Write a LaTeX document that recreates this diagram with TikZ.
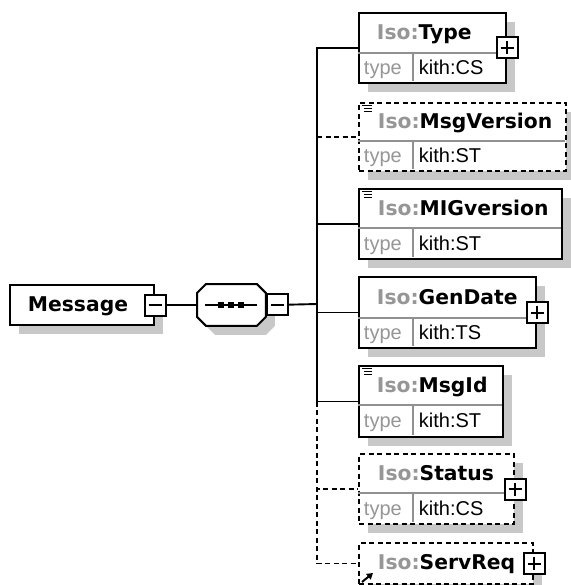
\documentclass[tikz,border=0pt]{standalone}
\usepackage{fontspec}
\setmainfont{Liberation Sans}
\newfontfamily\namefont{DejaVu Sans}
\usetikzlibrary{positioning, shadows, arrows.meta}
\definecolor{isogray}{RGB}{150,150,150}
\definecolor{shadowgray}{RGB}{200,200,200}
\definecolor{rulegray}{RGB}{145,145,145}
\newcommand{\isopre}{\textcolor{isogray}{Iso:}}

\begin{document}
\begin{tikzpicture}[x=1pt, y=-1pt, line width=1.9pt,
    box/.style={draw, fill=white, line width=2pt, inner sep=0, anchor=north west,
        drop shadow={shadow xshift=9pt, shadow yshift=-9pt, fill=shadowgray, opacity=1, draw=none}},
    optbox/.style={box, dash pattern=on 5pt off 3.5pt},
    optline/.style={dash pattern=on 5pt off 3.5pt},
    rule/.style={draw=rulegray, line width=1.4pt, shorten <=1pt, shorten >=1pt},
    pm/.style={draw, fill=white, line width=2pt, minimum size=21pt, inner sep=0},
    plusbox/.style={pm, path picture={
        \draw[line width=2pt] ([xshift=-6.5pt]path picture bounding box.center) -- ([xshift=6.5pt]path picture bounding box.center)
            ([yshift=-6.5pt]path picture bounding box.center) -- ([yshift=6.5pt]path picture bounding box.center);}},
    minusbox/.style={pm, path picture={
        \draw[line width=2pt] ([xshift=-6.5pt]path picture bounding box.center) -- ([xshift=6.5pt]path picture bounding box.center);}},
    namelbl/.style={anchor=base west, inner sep=0, font=\namefont\bfseries\fontsize{20.3}{24}\selectfont},
    typelbl/.style={anchor=base west, inner sep=0, font=\fontsize{20}{24}\selectfont},
    icon/.style={line width=1.5pt}]
    \useasboundingbox (0,0) rectangle (570,585);

    % root element and sequence
    \node[box, minimum width=144pt, minimum height=40pt] (msg) at (9,284) {};
    \node[namelbl] (msgname) at (27,311) {Message};
    \node[minusbox] (msgx) at (msg.east) {};

    \node[minimum width=67pt, minimum height=40pt, inner sep=0, anchor=north west] (seq) at (197,284) {};
    \draw[fill=white, line width=2pt, drop shadow={shadow xshift=9pt, shadow yshift=-9pt, fill=shadowgray, opacity=1, draw=none}]
        ([xshift=9pt]seq.north west) -- ([xshift=-9pt]seq.north east) -- ([yshift=-9pt]seq.north east)
        -- ([yshift=9pt]seq.south east) -- ([xshift=-9pt]seq.south east) -- ([xshift=9pt]seq.south west)
        -- ([yshift=9pt]seq.south west) -- ([yshift=-9pt]seq.north west) -- cycle;
    \draw[line width=1.8pt] ([xshift=8pt]seq.west) -- ([xshift=-9pt]seq.east);
    \foreach \dx in {-10,0,10}
        \fill ([shift={(\dx pt-3pt,-3pt)}]seq.center) rectangle ++(6pt,6pt);
    \node[minusbox, right=0pt of seq] (seqx) {};

    % child elements
    \node[box, minimum width=147pt, minimum height=70pt] (type) at (358,12) {};
    \node[optbox, minimum width=207pt, minimum height=68pt] (msgver) at (358,102) {};
    \node[box, minimum width=203pt, minimum height=70pt] (migver) at (358,188) {};
    \node[box, minimum width=177pt, minimum height=71pt] (gendate) at (358,276) {};
    \node[box, minimum width=144pt, minimum height=71pt] (msgid) at (358,365) {};
    \node[optbox, minimum width=155pt, minimum height=70pt] (status) at (358,453) {};
    \node[optbox, minimum width=174pt, minimum height=41pt] (servreq) at (358,542) {};

    \draw[rule] (358,53) -- (505,53) (413,53) -- (413,82);
    \draw[rule] (358,141) -- (565,141) (413,141) -- (413,170);
    \draw[rule] (358,228) -- (561,228) (413,228) -- (413,258);
    \draw[rule] (358,318) -- (535,318) (413,318) -- (413,347);
    \draw[rule] (358,405) -- (502,405) (413,405) -- (413,436);
    \draw[rule] (358,493) -- (513,493) (413,493) -- (413,523);

    \node[namelbl] (typename) at (376,39.5) {\isopre Type};
    \node[typelbl, text=isogray] (typet) at (363,74.5) {type};
    \node[typelbl] (typev) at (418,74.5) {kith:CS};
    \node[namelbl] (msgvername) at (377,128.5) {\isopre MsgVersion};
    \node[typelbl, text=isogray] (msgvert) at (363,162.5) {type};
    \node[typelbl] (msgverv) at (418,162.5) {kith:ST};
    \node[namelbl] (migvername) at (377,215) {\isopre MIGversion};
    \node[typelbl, text=isogray] (migvert) at (363,250) {type};
    \node[typelbl] (migverv) at (418,250) {kith:ST};
    \node[namelbl] (gendatename) at (376,304) {\isopre GenDate};
    \node[typelbl, text=isogray] (gendatet) at (363,339.5) {type};
    \node[typelbl] (gendatev) at (418,339.5) {kith:TS};
    \node[namelbl] (msgidname) at (376,392) {\isopre MsgId};
    \node[typelbl, text=isogray] (msgidt) at (363,427.5) {type};
    \node[typelbl] (msgidv) at (418,427.5) {kith:ST};
    \node[namelbl] (statusname) at (377,480) {\isopre Status};
    \node[typelbl, text=isogray] (statust) at (363,515) {type};
    \node[typelbl] (statusv) at (418,515) {kith:CS};
    \node[namelbl] (servreqname) at (377,569.5) {\isopre ServReq};

    % small marks
    \foreach \n in {msgver, migver, msgid} {
        \draw[icon] ([shift={(4pt,-3.5pt)}]\n.north west) -- ++(10pt,0pt);
        \draw[icon] ([shift={(6pt,-6.5pt)}]\n.north west) -- ++(8pt,0pt);
        \draw[icon] ([shift={(6pt,-9.5pt)}]\n.north west) -- ++(8pt,0pt);
    }
    \draw[-{Triangle[length=6pt, width=7pt]}, line width=2pt] ([shift={(4pt,3pt)}]servreq.south west) -- ++(11pt,9pt);

    \node[plusbox] (typex) at (type.east) {};
    \node[plusbox] (gendatex) at (gendate.east) {};
    \node[plusbox] (statusx) at (status.east) {};
    \node[plusbox] (servreqx) at (servreq.east) {};

    % connectors
    \draw (msgx) -- (seq);
    \coordinate (fork) at (317,304);
    \draw (seqx) -- (fork);
    \draw (fork) |- (type.west) (fork) |- (migver.west) (fork) |- (gendate.west) (fork) |- (msgid.west);
    \draw[optline] (fork |- msgver.west) -- (msgver.west);
    \draw[optline] (fork |- msgid.west) |- (status.west) (fork |- msgid.west) |- (servreq.west);
\end{tikzpicture}
\end{document}
